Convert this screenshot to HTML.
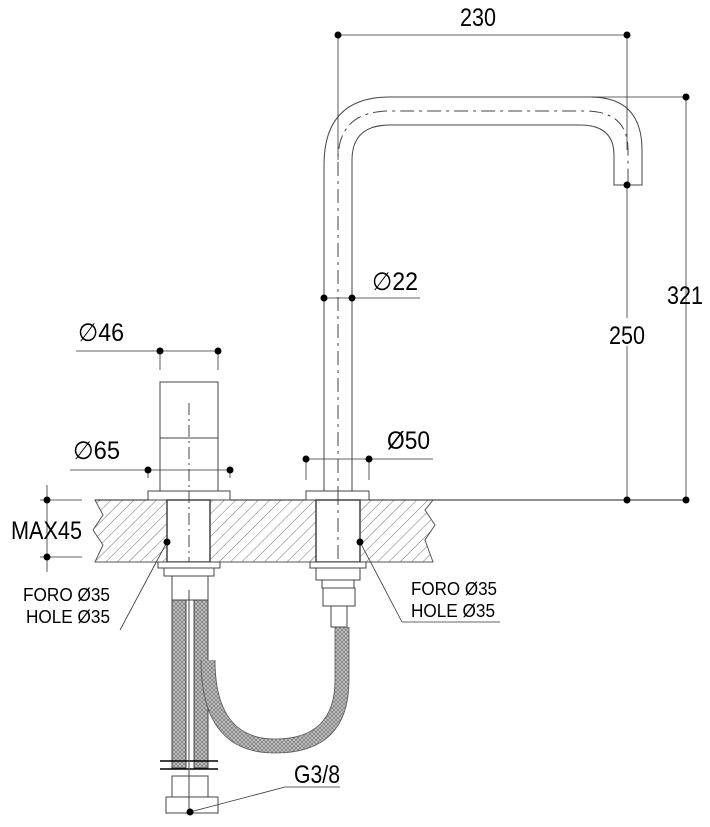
<!DOCTYPE html>
<html><head><meta charset="utf-8"><style>
html,body{margin:0;padding:0;background:#fff}
svg{display:block}
text{font-family:"Liberation Sans",sans-serif;fill:#000}
</style></head><body>
<svg width="710" height="827" viewBox="0 0 710 827" xmlns="http://www.w3.org/2000/svg">
<defs>
<pattern id="hatch" width="8" height="8" patternUnits="userSpaceOnUse" patternTransform="rotate(45)">
<line x1="0" y1="0" x2="0" y2="8" stroke="#333" stroke-width="0.7"/></pattern>
<pattern id="braid" width="4" height="4" patternUnits="userSpaceOnUse">
<rect width="4" height="4" fill="#c4c4c4"/><path d="M0,0L4,4M4,0L0,4" stroke="#777" stroke-width="0.7"/></pattern>
</defs>
<g stroke="#444" stroke-width="1" fill="none">
<path d="M95,500 H433 L425,510 L435,525 L425,540 L433,562 H95 L103,545 L93,530 L103,515 Z" fill="url(#hatch)" stroke="#555"/>
<line x1="95" y1="500" x2="686" y2="500" stroke="#222"/>
<path d="M324,500 V165 Q324,97 390,97 H590 Q642,97 642,150 V185 H614 V155 Q614,125 580,125 H390 Q352,125 352,160 V500" fill="#fff"/>
<path d="M338,500 V160 Q338,111 390,111 H585 Q628,111 628,150 V185" stroke-dasharray="14,5,3,5"/>
<rect x="160" y="382" width="58" height="56" fill="#fff"/>
<rect x="160" y="438" width="58" height="53" fill="#fff"/>
<rect x="148" y="491" width="82" height="9" fill="#fff"/>
<rect x="167" y="500" width="43" height="62" fill="#fff" stroke-width="1.5"/>
<line x1="189" y1="403" x2="189" y2="562" stroke-dasharray="12,4,2,4"/>
<rect x="158" y="562" width="62" height="6" fill="#fff"/>
<rect x="164" y="568" width="50" height="8" fill="#fff"/>
<rect x="172" y="576" width="36" height="24" fill="#fff"/>
<rect x="172" y="600" width="14" height="168" fill="url(#braid)"/>
<rect x="194" y="600" width="14" height="168" fill="url(#braid)"/>
<line x1="160" y1="761" x2="218" y2="761" stroke="#000" stroke-width="1.5"/>
<line x1="160" y1="769" x2="218" y2="769" stroke="#000" stroke-width="1.5"/>
<rect x="172" y="776" width="36" height="22" fill="#fff"/>
<rect x="166" y="797" width="52" height="16" fill="#fff"/>
<line x1="189" y1="590" x2="189" y2="813"/>
<path d="M208,660 Q208,746 275,746 Q342,746 342,680 V627" stroke="url(#braid)" stroke-width="14"/>
<path d="M201,660 Q201,753 275,753 Q349,753 349,680 V627 M215,660 Q215,739 275,739 Q335,739 335,680 V627" stroke="#555" stroke-width="0.8"/>
<rect x="306" y="491" width="63" height="9" fill="#fff"/>
<rect x="316" y="500" width="44" height="62" fill="#fff" stroke-width="1.5"/>
<line x1="338" y1="491" x2="338" y2="562" stroke-dasharray="14,5,3,5"/>
<rect x="310" y="562" width="56" height="6" fill="#fff"/>
<rect x="316" y="568" width="44" height="12" fill="#fff"/>
<rect x="322" y="580" width="32" height="8" fill="#fff"/>
<rect x="323" y="588" width="32" height="18" fill="#fff"/>
<rect x="331" y="606" width="16" height="21" fill="#fff"/>
</g>
<g stroke="#333" stroke-width="0.8" fill="none">
<line x1="338" y1="35" x2="627" y2="35"/>
<line x1="338" y1="35" x2="338" y2="160"/>
<line x1="627" y1="35" x2="627" y2="150"/>
<line x1="592" y1="97" x2="686" y2="97"/>
<line x1="686" y1="97" x2="686" y2="500"/>
<line x1="627" y1="185" x2="627" y2="500"/>
<line x1="322" y1="298" x2="420" y2="298"/>
<line x1="76" y1="351" x2="218" y2="351"/>
<line x1="160" y1="351" x2="160" y2="370"/><line x1="218" y1="351" x2="218" y2="370"/>
<line x1="70" y1="470" x2="232" y2="470"/>
<line x1="148" y1="470" x2="148" y2="478"/><line x1="230" y1="470" x2="230" y2="478"/>
<line x1="306" y1="459" x2="433" y2="459"/>
<line x1="306" y1="459" x2="306" y2="480"/><line x1="369" y1="459" x2="369" y2="480"/>
<line x1="47" y1="485" x2="47" y2="572"/>
<line x1="40" y1="500" x2="82" y2="500"/><line x1="40" y1="557" x2="82" y2="557"/>
<line x1="167" y1="542" x2="120" y2="630"/>
<line x1="360" y1="542" x2="402" y2="622"/><line x1="402" y1="622" x2="500" y2="622"/>
<line x1="190" y1="812" x2="285" y2="787"/><line x1="285" y1="787" x2="340" y2="787"/>
</g>
<g fill="#000">
<circle cx="338" cy="35" r="3.5"/><circle cx="627" cy="35" r="3.5"/>
<circle cx="686" cy="97" r="3.5"/><circle cx="686" cy="500" r="3.5"/>
<circle cx="627" cy="185" r="3.5"/><circle cx="627" cy="500" r="3.5"/>
<circle cx="324" cy="298" r="3.5"/><circle cx="352" cy="298" r="3.5"/>
<circle cx="160" cy="351" r="3.5"/><circle cx="218" cy="351" r="3.5"/>
<circle cx="148" cy="470" r="3.5"/><circle cx="230" cy="470" r="3.5"/>
<circle cx="306" cy="459" r="3.5"/><circle cx="369" cy="459" r="3.5"/>
<circle cx="47" cy="500" r="3.5"/><circle cx="47" cy="557" r="3.5"/>
<circle cx="167" cy="542" r="3.5"/><circle cx="360" cy="542" r="3.5"/>
<circle cx="190" cy="812" r="3.5"/>
</g>
<rect x="606" y="318" width="40" height="28" fill="#fff"/>
<g font-size="25">
<text x="478" y="26" text-anchor="middle" textLength="36" lengthAdjust="spacingAndGlyphs">230</text>
<text x="627" y="344" text-anchor="middle" textLength="36" lengthAdjust="spacingAndGlyphs">250</text>
<text x="685" y="304" text-anchor="middle" textLength="36" lengthAdjust="spacingAndGlyphs">321</text>
<text x="372" y="290" textLength="46" lengthAdjust="spacingAndGlyphs">∅22</text>
<text x="78" y="341" textLength="46" lengthAdjust="spacingAndGlyphs">∅46</text>
<text x="73" y="459" textLength="47" lengthAdjust="spacingAndGlyphs">∅65</text>
<text x="387" y="449" textLength="43" lengthAdjust="spacingAndGlyphs">Ø50</text>
<text x="11" y="539" textLength="71" lengthAdjust="spacingAndGlyphs">MAX45</text>
<text x="294" y="783" textLength="46" lengthAdjust="spacingAndGlyphs">G3/8</text>
</g>
<g font-size="18">
<text x="23" y="601" textLength="87" lengthAdjust="spacingAndGlyphs">FORO Ø35</text>
<text x="26" y="623" textLength="84" lengthAdjust="spacingAndGlyphs">HOLE Ø35</text>
<text x="411" y="595" textLength="86" lengthAdjust="spacingAndGlyphs">FORO Ø35</text>
<text x="411" y="617" textLength="84" lengthAdjust="spacingAndGlyphs">HOLE Ø35</text>
</g>
</svg>
</body></html>
